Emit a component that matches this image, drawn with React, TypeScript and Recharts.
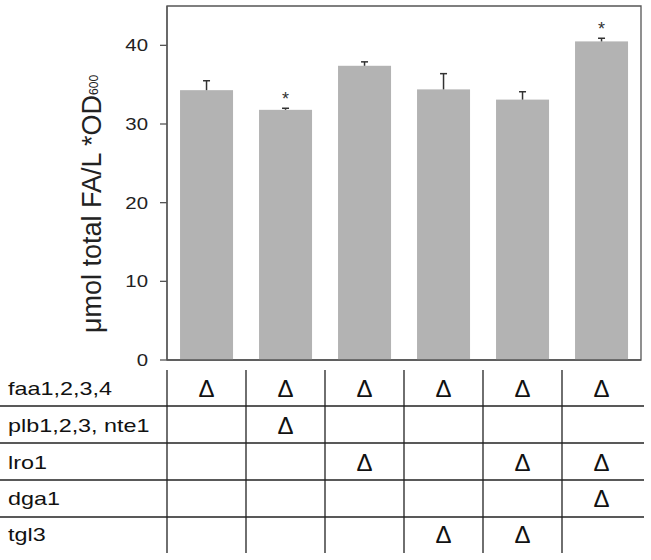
import React from 'react';
import { BarChart, Bar, XAxis, YAxis, ReferenceArea } from 'recharts';

const strains = ['S1', 'S2', 'S3', 'S4', 'S5', 'S6'];
const faValues = [34.3, 31.8, 37.4, 34.4, 33.1, 40.5];
const faErrors = [1.2, 0.2, 0.5, 2.0, 1.0, 0.4];
const significant = [false, true, false, false, false, true];
const yTicks = [0, 10, 20, 30, 40];

const rowLabels = ['faa1,2,3,4', 'plb1,2,3, nte1', 'lro1', 'dga1', 'tgl3'];
const faaDel = [1, 1, 1, 1, 1, 1];
const plbDel = [0, 1, 0, 0, 0, 0];
const lro1Del = [0, 0, 1, 0, 1, 1];
const dga1Del = [0, 0, 0, 0, 0, 1];
const tgl3Del = [0, 0, 0, 1, 1, 0];
const deletionRows = [faaDel, plbDel, lro1Del, dga1Del, tgl3Del];

const data = strains.map((s, i) => ({ strain: s, value: faValues[i], err: faErrors[i], sig: significant[i] }));

const W = 651;
const H = 560;
const M = { top: 6, right: 10, left: 0, bottom: 0 };
const Y_AXIS_W = 167;
const X_AXIS_H = 200;
const FONT = '"Liberation Sans", Arial, sans-serif';
const BAND = (W - M.right - Y_AXIS_W) / strains.length;

const rowCenters = [28, 65, 102, 138, 174];
const rowLines = [46, 83, 120, 157];

const BarWithError = (props: any) => {
  const { x, y, width, height, payload } = props;
  const perUnit = height / payload.value;
  const errTop = y - payload.err * perUnit;
  const cx = x + width / 2;
  return (
    <g>
      <rect x={x} y={y} width={width} height={height} fill="#b3b3b3" />
      <line x1={cx} x2={cx} y1={y} y2={errTop} stroke="#333" strokeWidth={1.5} />
      <line x1={cx - 3.5} x2={cx + 3.5} y1={errTop} y2={errTop} stroke="#333" strokeWidth={1.5} />
      {payload.sig && (
        <text x={cx} y={errTop - 3} textAnchor="middle" fontSize={18} fill="#333" fontFamily={FONT}>*</text>
      )}
    </g>
  );
};

const YTick = (props: any) => {
  const { x, y, payload } = props;
  return (
    <g transform={`translate(${x},${y}) scale(1.2,1)`}>
      <text textAnchor="end" dy="0.36em" fontSize={17} fill="#222" fontFamily={FONT}>{payload.value}</text>
    </g>
  );
};

const TableTick = (props: any) => {
  const { x, y, index } = props;
  const left = x - BAND / 2;
  return (
    <g>
      {index === 0 && (
        <g>
          {rowLabels.map((lab, r) => (
            <g key={lab} transform={`translate(8,${y + rowCenters[r]}) scale(1.23,1)`}>
              <text dy="0.36em" fontSize={19} fill="#111" fontFamily={FONT}>{lab}</text>
            </g>
          ))}
          {rowLines.map((ly, r) => (
            <line key={r} x1={0} x2={644} y1={y + ly} y2={y + ly} stroke="#222" strokeWidth={1.3} />
          ))}
        </g>
      )}
      <line x1={left} x2={left} y1={y + 10} y2={y + 193} stroke="#222" strokeWidth={1.3} />
      {deletionRows.map((row, r) =>
        row[index] ? (
          <text key={r} x={x} y={y + rowCenters[r]} dy="0.36em" textAnchor="middle" fontSize={24} fill="#111" fontFamily={FONT}>Δ</text>
        ) : null
      )}
    </g>
  );
};

export default function App() {
  return (
    <div style={{ position: 'absolute', left: 0, top: 0, width: W, height: H, background: '#fff' }}>
      <BarChart width={W} height={H} data={data} margin={M} barCategoryGap="16.5%">
        <ReferenceArea y1={0} y2={45} fill="none" stroke="#555" strokeWidth={1.3} ifOverflow="visible" />
        <YAxis
          type="number"
          domain={[0, 45]}
          ticks={yTicks}
          width={Y_AXIS_W}
          tickSize={7}
          tickMargin={12}
          axisLine={{ stroke: '#555', strokeWidth: 1.3 }}
          tickLine={{ stroke: '#555', strokeWidth: 1.3 }}
          tick={<YTick />}
        />
        <XAxis
          dataKey="strain"
          height={X_AXIS_H}
          tickSize={0}
          tickMargin={0}
          tickLine={false}
          axisLine={{ stroke: '#555', strokeWidth: 1.3 }}
          tick={<TableTick />}
          interval={0}
        />
        <Bar dataKey="value" isAnimationActive={false} shape={<BarWithError />} />
        <text x={0} y={0} transform="translate(101,204) rotate(-90)" textAnchor="middle" fontSize={27} fill="#222" fontFamily={FONT}>
          μmol total FA/L *OD<tspan fontSize={12} dy={-3}>600</tspan>
        </text>
      </BarChart>
    </div>
  );
}
